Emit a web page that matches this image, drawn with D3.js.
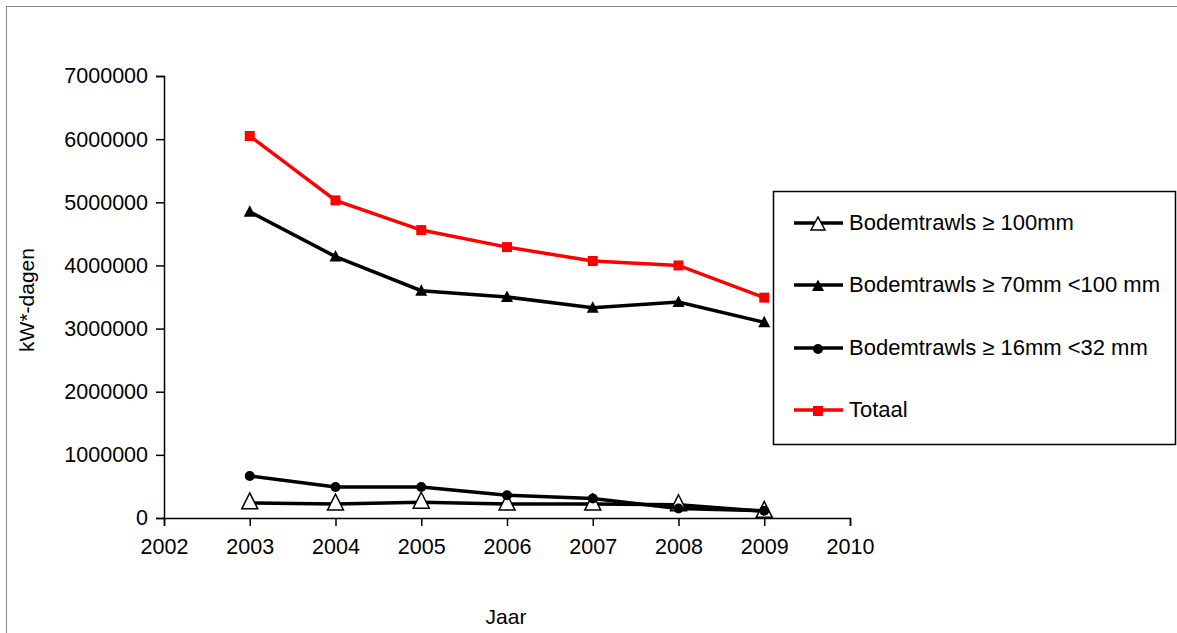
<!DOCTYPE html>
<html>
<head>
<meta charset="utf-8">
<script src="https://cdn.jsdelivr.net/npm/d3@7"></script>
<style>
  body { margin: 0; background: #fff; }
  text { font-family: "Liberation Sans", Arial, sans-serif; fill: #000; }
</style>
</head>
<body>
<div id="chart"></div>
<script>
// Data
var years = [2003, 2004, 2005, 2006, 2007, 2008, 2009];
var bodem100 = [240000, 220000, 250000, 220000, 220000, 210000, 105000];
var bodem70 = [4850000, 4140000, 3600000, 3500000, 3330000, 3420000, 3100000];
var bodem16 = [665000, 490000, 490000, 360000, 310000, 150000, 115000];
var totaal = [6050000, 5030000, 4560000, 4290000, 4070000, 4000000, 3490000];
var yTicks = [0, 1000000, 2000000, 3000000, 4000000, 5000000, 6000000, 7000000];
var xTicks = [2002, 2003, 2004, 2005, 2006, 2007, 2008, 2009, 2010];

var series = [
  { name: 'Bodemtrawls \u2265 100mm', values: bodem100, color: '#000', marker: 'openTri' },
  { name: 'Bodemtrawls \u2265 70mm <100 mm', values: bodem70, color: '#000', marker: 'tri' },
  { name: 'Bodemtrawls \u2265 16mm <32 mm', values: bodem16, color: '#000', marker: 'dot' },
  { name: 'Totaal', values: totaal, color: '#ff0000', marker: 'square' }
];

var W = 1177, H = 633;

var svg = d3.select('#chart')
  .append('svg')
  .attr('width', W)
  .attr('height', H);

// Outer frame
svg.append('rect')
  .attr('x', 6.5).attr('y', 6.5)
  .attr('width', W + 20).attr('height', H + 20)
  .style('fill', 'none')
  .style('stroke', '#888')
  .style('stroke-width', 1);

var x = d3.scaleLinear().domain([2002, 2010]).range([164, 850]);
var y = d3.scaleLinear().domain([0, 7000000]).range([518, 76]);

// Axes
var yAxis = svg.append('g')
  .attr('transform', 'translate(164,0)')
  .call(d3.axisLeft(y).tickValues(yTicks).tickSize(8).tickPadding(8).tickFormat(d3.format('d')));
var xAxis = svg.append('g')
  .attr('transform', 'translate(0,518)')
  .call(d3.axisBottom(x).tickValues(xTicks).tickSize(8).tickPadding(8).tickFormat(d3.format('d')));

[yAxis, xAxis].forEach(function (a) {
  a.select('.domain').attr('stroke', '#000').attr('stroke-width', 1.5);
  a.selectAll('.tick line').attr('stroke', '#000').attr('stroke-width', 1.5);
  a.selectAll('.tick text')
    .style('font-family', '"Liberation Sans", Arial, sans-serif')
    .style('font-size', '21.5px')
    .attr('fill', '#000');
});
xAxis.selectAll('.tick text').attr('dy', '0.95em');

// Axis titles
svg.append('text')
  .attr('transform', 'translate(34,300) rotate(-90)')
  .attr('text-anchor', 'middle')
  .style('font-size', '21px')
  .text('kW*-dagen');

svg.append('text')
  .attr('x', 506)
  .attr('y', 624)
  .attr('text-anchor', 'middle')
  .style('font-size', '21px')
  .text('Jaar');

// Marker helper
function drawMarker(g, type, color) {
  if (type === 'square') {
    g.append('rect').attr('x', -5).attr('y', -5).attr('width', 10).attr('height', 10)
      .style('fill', color);
  } else if (type === 'tri') {
    g.append('path').attr('d', 'M0,-6.5L6,5L-6,5Z').style('fill', color);
  } else if (type === 'openTri') {
    g.append('path').attr('d', 'M0,-10L8,6L-8,6Z')
      .style('fill', '#fff').style('stroke', color).style('stroke-width', 1.5);
  } else if (type === 'dot') {
    g.append('circle').attr('r', 5).style('fill', color);
  }
}

var line = d3.line()
  .x(function (d) { return x(d.year); })
  .y(function (d) { return y(d.value); });

series.forEach(function (s) {
  var pts = years.map(function (yr, i) { return { year: yr, value: s.values[i] }; });
  svg.append('path')
    .datum(pts)
    .attr('d', line)
    .style('fill', 'none')
    .style('stroke', s.color)
    .style('stroke-width', 3.5);
  pts.forEach(function (p) {
    var g = svg.append('g').attr('transform', 'translate(' + x(p.year) + ',' + y(p.value) + ')');
    drawMarker(g, s.marker, s.color);
  });
});

// Legend
var legend = svg.append('g');
legend.append('rect')
  .attr('x', 773.5).attr('y', 191.5)
  .attr('width', 402).attr('height', 253)
  .style('fill', '#fff')
  .style('stroke', '#000')
  .style('stroke-width', 1.5);

var legendY = [223, 285, 348, 410];
series.forEach(function (s, i) {
  var g = legend.append('g').attr('transform', 'translate(0,' + legendY[i] + ')');
  g.append('line')
    .attr('x1', 794).attr('x2', 843)
    .style('stroke', s.color)
    .style('stroke-width', 3.5);
  var m = g.append('g').attr('transform', 'translate(818,' + (s.marker === 'openTri' ? 2 : 1) + ')');
  if (s.marker === 'openTri') {
    m.append('path').attr('d', 'M0,-8L7,5L-7,5Z')
      .style('fill', '#fff').style('stroke', s.color).style('stroke-width', 1.5);
  } else {
    drawMarker(m, s.marker, s.color);
  }
  g.append('text')
    .attr('x', 849)
    .attr('y', 7)
    .style('font-size', '22px')
    .text(s.name);
});
</script>
</body>
</html>
